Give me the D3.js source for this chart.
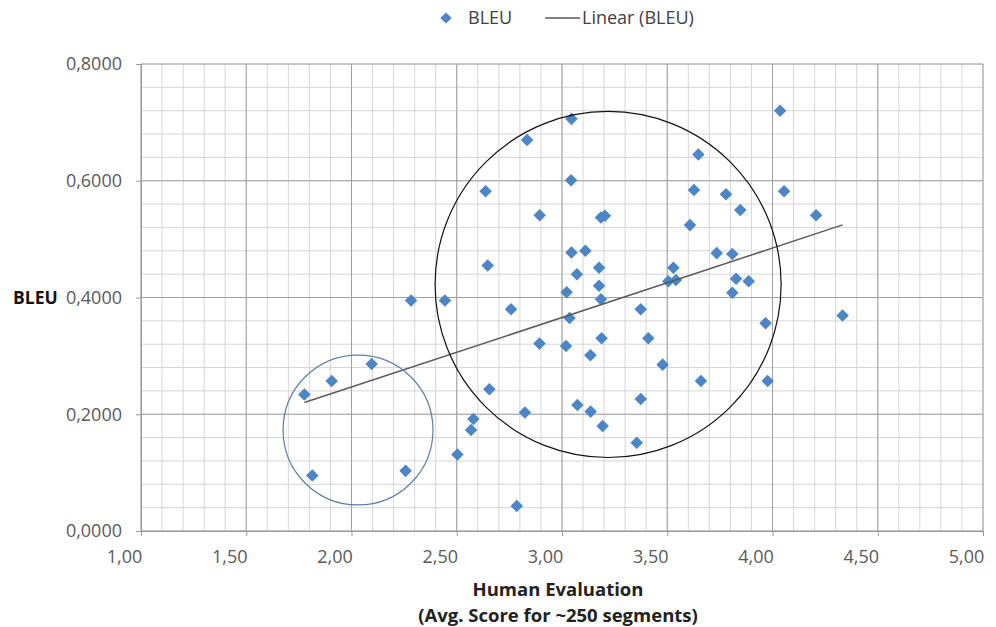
<!DOCTYPE html>
<html>
<head>
<meta charset="utf-8">
<script src="https://cdn.jsdelivr.net/npm/d3@7"></script>
<style>
  body { margin: 0; background: #fff; }
  svg text { font-family: "Open Sans", "Noto Sans", sans-serif; }
</style>
</head>
<body>
<div id="chart"></div>
<script>
// human evaluation score (x) and BLEU (y)
var humanScore = [1.776, 1.906, 2.096, 1.814, 2.257, 2.283, 2.444, 2.503, 2.579, 2.568,
  2.655, 2.785, 2.824, 2.758, 2.647, 2.637, 2.834, 2.894, 2.893, 3.045,
  3.043, 3.045, 3.111, 3.185, 3.204, 3.176, 3.071, 3.176, 3.022, 3.185,
  3.036, 3.019, 3.188, 3.135, 3.073, 3.136, 3.193, 3.374, 3.410, 3.374,
  3.355, 3.478, 3.529, 3.505, 3.541, 3.608, 3.627, 3.648, 3.660, 3.735,
  3.779, 3.809, 3.827, 3.887, 3.809, 3.847, 3.967, 3.977, 4.036, 4.055,
  4.207, 4.333];
var bleuScore = [0.234, 0.257, 0.286, 0.095, 0.103, 0.395, 0.395, 0.131, 0.192, 0.173,
  0.243, 0.043, 0.203, 0.380, 0.455, 0.582, 0.670, 0.541, 0.321, 0.706,
  0.601, 0.477, 0.480, 0.537, 0.540, 0.451, 0.440, 0.420, 0.409, 0.397,
  0.365, 0.317, 0.330, 0.301, 0.216, 0.2045, 0.180, 0.380, 0.330, 0.226,
  0.151, 0.285, 0.451, 0.428, 0.430, 0.524, 0.584, 0.645, 0.257, 0.476,
  0.577, 0.4745, 0.432, 0.428, 0.408, 0.550, 0.356, 0.257, 0.720, 0.582,
  0.541, 0.369];

var xTicks = [1, 1.5, 2, 2.5, 3, 3.5, 4, 4.5, 5];
var yTicks = [0, 0.2, 0.4, 0.6, 0.8];

// hand-drawn circles on top of the chart (centre in data units, radius in x units)
var circleX = [2.031, 3.219];
var circleY = [0.173, 0.4223];
var circleR = [0.356, 0.822];
var circleColor = ["#5b7ea8", "#111"];

var svgWidth = 996, svgHeight = 627;
var margin = { top: 64, right: 13, bottom: 96, left: 141 };
var chartWidth = svgWidth - margin.left - margin.right;
var chartHeight = svgHeight - margin.top - margin.bottom;

var svg = d3.select("#chart").append("svg")
  .attr("width", svgWidth)
  .attr("height", svgHeight);

var chartGroup = svg.append("g")
  .attr("transform", `translate(${margin.left}, ${margin.top})`);

var xScale = d3.scaleLinear().domain([1, 5]).range([0, chartWidth]);
var yScale = d3.scaleLinear().domain([0, 0.8]).range([chartHeight, 0]);

var locale = d3.formatLocale({ decimal: ",", thousands: ".", grouping: [3], currency: ["", ""] });

// minor grid
chartGroup.append("g").selectAll("line")
  .data(d3.range(0, 41).map(i => 1 + i * 0.1))
  .enter().append("line")
  .attr("x1", d => xScale(d)).attr("x2", d => xScale(d))
  .attr("y1", 0).attr("y2", chartHeight)
  .attr("stroke", "#d6d6d6").attr("stroke-width", 1);

chartGroup.append("g").selectAll("line")
  .data(d3.range(0, 21).map(i => i * 0.04))
  .enter().append("line")
  .attr("x1", 0).attr("x2", chartWidth)
  .attr("y1", d => yScale(d)).attr("y2", d => yScale(d))
  .attr("stroke", "#d6d6d6").attr("stroke-width", 1);

// major grid
chartGroup.append("g").selectAll("line")
  .data(xTicks)
  .enter().append("line")
  .attr("x1", d => xScale(d)).attr("x2", d => xScale(d))
  .attr("y1", 0).attr("y2", chartHeight)
  .attr("stroke", "#a0a0a0").attr("stroke-width", 1);

chartGroup.append("g").selectAll("line")
  .data(yTicks)
  .enter().append("line")
  .attr("x1", 0).attr("x2", chartWidth)
  .attr("y1", d => yScale(d)).attr("y2", d => yScale(d))
  .attr("stroke", "#a0a0a0").attr("stroke-width", 1);

// axes
var bottomAxis = d3.axisBottom(xScale).tickValues(xTicks)
  .tickFormat(locale.format(".2f")).tickSize(5).tickPadding(14);
var leftAxis = d3.axisLeft(yScale).tickValues(yTicks)
  .tickFormat(locale.format(".4f")).tickSize(5).tickPadding(14);

var xAxisG = chartGroup.append("g")
  .attr("transform", `translate(0, ${chartHeight})`)
  .call(bottomAxis);
var yAxisG = chartGroup.append("g").call(leftAxis);

[xAxisG, yAxisG].forEach(function(g) {
  g.select(".domain").attr("stroke", "#999");
  g.selectAll(".tick line").attr("stroke", "#999");
  g.selectAll(".tick text").attr("fill", "#595959").style("font-size", "18px");
});
xAxisG.selectAll(".tick text").attr("dx", -17);

// points
chartGroup.append("g").selectAll("path")
  .data(humanScore.map((d, i) => [d, bleuScore[i]]))
  .enter().append("path")
  .attr("d", d3.symbol().type(d3.symbolDiamond2).size(100))
  .attr("transform", d => `translate(${xScale(d[0])}, ${yScale(d[1])})`)
  .attr("fill", "#4a86c8");

// linear trendline (least squares)
var mx = d3.mean(humanScore), my = d3.mean(bleuScore);
var sxy = d3.sum(humanScore, (d, i) => (d - mx) * (bleuScore[i] - my));
var sxx = d3.sum(humanScore, d => (d - mx) * (d - mx));
var slope = sxy / sxx, intercept = my - slope * mx;
var xExt = d3.extent(humanScore);

chartGroup.append("line")
  .attr("x1", xScale(xExt[0])).attr("y1", yScale(intercept + slope * xExt[0]))
  .attr("x2", xScale(xExt[1])).attr("y2", yScale(intercept + slope * xExt[1]))
  .attr("stroke", "#595959").attr("stroke-width", 1.5);

// annotation circles
chartGroup.append("g").selectAll("circle")
  .data(circleX.map((d, i) => i))
  .enter().append("circle")
  .attr("cx", i => xScale(circleX[i]))
  .attr("cy", i => yScale(circleY[i]))
  .attr("r", i => xScale(circleX[i] + circleR[i]) - xScale(circleX[i]))
  .attr("fill", "none")
  .attr("stroke", i => circleColor[i])
  .attr("stroke-width", 1.2);

// axis titles
svg.append("text")
  .attr("x", 13).attr("y", yScale(0.4) + margin.top + 6)
  .style("font-size", "17.5px").style("font-weight", "bold").attr("fill", "#111")
  .text("BLEU");

svg.append("text")
  .attr("x", margin.left + chartWidth / 2 - 4).attr("y", 596)
  .attr("text-anchor", "middle")
  .style("font-size", "18.5px").style("font-weight", "bold").attr("fill", "#222")
  .text("Human Evaluation");

svg.append("text")
  .attr("x", margin.left + chartWidth / 2 - 4).attr("y", 622)
  .attr("text-anchor", "middle")
  .style("font-size", "18.5px").style("font-weight", "bold").attr("fill", "#222")
  .text("(Avg. Score for ~250 segments)");

// legend
var legend = svg.append("g");
legend.append("path")
  .attr("d", d3.symbol().type(d3.symbolDiamond2).size(80))
  .attr("transform", "translate(446, 18)")
  .attr("fill", "#4a86c8");
legend.append("text")
  .attr("x", 468).attr("y", 24)
  .style("font-size", "18px").attr("fill", "#404040")
  .text("BLEU");
legend.append("line")
  .attr("x1", 545).attr("x2", 580).attr("y1", 18).attr("y2", 18)
  .attr("stroke", "#595959").attr("stroke-width", 1.5);
legend.append("text")
  .attr("x", 582).attr("y", 24)
  .style("font-size", "18px").attr("fill", "#404040")
  .text("Linear (BLEU)");
</script>
</body>
</html>
